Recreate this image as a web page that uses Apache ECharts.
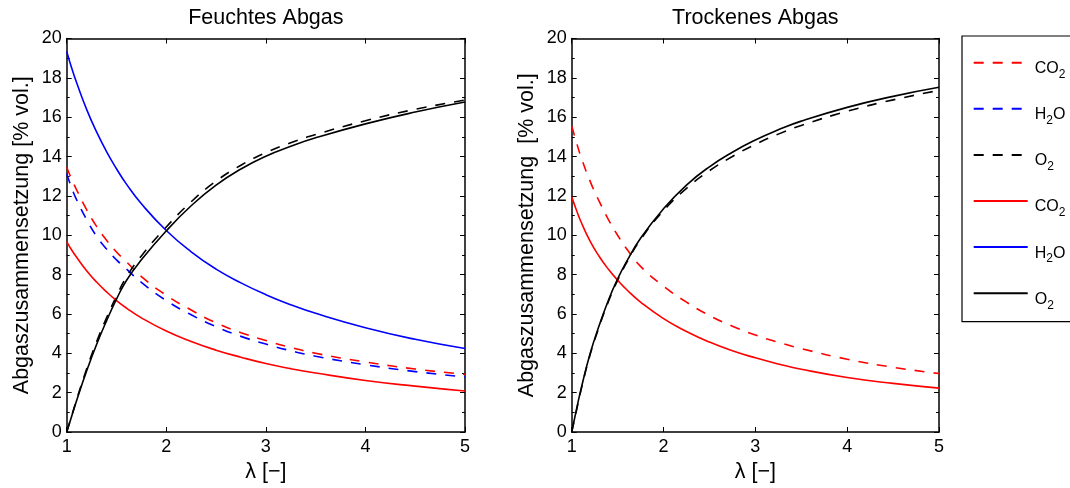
<!DOCTYPE html>
<html>
<head>
<meta charset="utf-8">
<script src="https://cdn.jsdelivr.net/npm/echarts@6/dist/echarts.min.js"></script>
<style>
html,body{margin:0;padding:0;background:#fff;}
#chart{width:1070px;height:488px;}
</style>
</head>
<body>
<div id="chart"></div>
<script>
// ---------- data ----------
const lambda = [1, 1.05, 1.1, 1.2, 1.3, 1.4, 1.5, 1.6, 1.75, 2, 2.25, 2.5, 2.75, 3, 3.25, 3.5, 4, 4.5, 5];

// Feuchtes Abgas (wet)
const wetCO2Dashed = [13.46, 12.85, 12.3, 11.3, 10.45, 9.75, 9.15, 8.65, 7.9, 6.95, 6.2, 5.55, 5.05, 4.65, 4.3, 4.0, 3.56, 3.2, 2.93];
const wetH2ODashed = [13.12, 12.4, 11.8, 10.8, 9.95, 9.3, 8.75, 8.28, 7.6, 6.68, 5.96, 5.35, 4.86, 4.47, 4.13, 3.85, 3.42, 3.07, 2.8];
const wetO2Dashed  = [0, 0.82, 1.65, 3.2, 4.58, 5.8, 6.9, 7.88, 8.95, 10.42, 11.7, 12.75, 13.56, 14.2, 14.7, 15.12, 15.82, 16.4, 16.87];
const wetCO2Solid  = [9.68, 9.25, 8.88, 8.2, 7.62, 7.12, 6.68, 6.3, 5.8, 5.13, 4.6, 4.16, 3.8, 3.48, 3.22, 3.0, 2.62, 2.33, 2.08];
const wetH2OSolid  = [19.34, 18.5, 17.75, 16.4, 15.25, 14.25, 13.38, 12.6, 11.6, 10.24, 9.16, 8.28, 7.58, 6.98, 6.47, 6.03, 5.3, 4.71, 4.24];
const wetO2Solid   = [0, 0.8, 1.6, 3.1, 4.45, 5.65, 6.75, 7.7, 8.75, 10.22, 11.5, 12.55, 13.37, 14.02, 14.52, 14.95, 15.66, 16.26, 16.77];

// Trockenes Abgas (dry)
const dryCO2Dashed = [15.56, 14.75, 14.0, 12.75, 11.72, 10.8, 10.0, 9.3, 8.42, 7.41, 6.6, 5.92, 5.38, 4.93, 4.56, 4.24, 3.7, 3.29, 2.97];
const dryO2Dashed  = [0, 1.05, 2.1, 3.92, 5.36, 6.63, 7.71, 8.62, 9.78, 11.25, 12.38, 13.28, 14.0, 14.62, 15.14, 15.58, 16.3, 16.88, 17.36];
const dryCO2Solid  = [11.95, 11.3, 10.7, 9.7, 8.92, 8.27, 7.72, 7.23, 6.6, 5.76, 5.11, 4.57, 4.13, 3.77, 3.46, 3.19, 2.77, 2.47, 2.23];
const dryO2Solid   = [0, 1.1, 2.15, 3.98, 5.42, 6.7, 7.78, 8.68, 9.85, 11.35, 12.55, 13.48, 14.22, 14.84, 15.36, 15.8, 16.5, 17.06, 17.52];

const xTicks = [1, 2, 3, 4, 5];
const yTicks = [0, 2, 4, 6, 8, 10, 12, 14, 16, 18, 20];

const titles = ['Feuchtes Abgas', 'Trockenes Abgas'];
const yNames = ['Abgaszusammensetzung [% vol.]', 'Abgaszusammensetzung  [% vol.]'];
const xName = 'λ [−]';

const legendNames = ['CO2_d', 'H2O_d', 'O2_d', 'CO2_s', 'H2O_s', 'O2_s'];
const legendLabels = {
  'CO2_d': '{n|CO}{s|2}', 'H2O_d': '{n|H}{s|2}{m|O}', 'O2_d': '{n|O}{s|2}',
  'CO2_s': '{n|CO}{s|2}', 'H2O_s': '{n|H}{s|2}{m|O}', 'O2_s': '{n|O}{s|2}'
};

// ---------- styling ----------
const FONT = '"Liberation Sans", Arial, Helvetica, sans-serif';
const RED = '#ff0000', BLUE = '#0000ff', BLACK = '#000000';
const DASH = [10, 9];
const LW = 1.6;

const grids = [
  {left: 66.7, top: 38.5, width: 398.3, height: 397},
  {left: 571.7, top: 38.5, width: 367.3, height: 397}
];

function pairs(ys) { return lambda.map((x, i) => [x, ys[i]]); }

function xAxisFor(gi, pos) {
  const bottom = pos === 'bottom';
  return {
    type: 'value', gridIndex: gi, position: pos, min: xTicks[0], max: xTicks[xTicks.length - 1], interval: 1,
    name: bottom ? xName : titles[gi], nameLocation: 'middle', nameGap: bottom ? 29 : 9,
    nameTextStyle: {fontFamily: FONT, fontSize: 21.5, color: '#000'},
    axisLine: {show: true, onZero: false, lineStyle: {color: '#000', width: 1.5}},
    axisTick: {show: true, inside: true, length: 5, lineStyle: {color: '#000', width: 1}},
    axisLabel: {show: bottom, margin: 6, fontFamily: FONT, fontSize: 18, color: '#000'},
    splitLine: {show: false}
  };
}
function yAxisFor(gi, pos) {
  const left = pos === 'left';
  return {
    type: 'value', gridIndex: gi, position: pos, min: yTicks[0], max: yTicks[yTicks.length - 1], interval: 2,
    name: left ? yNames[gi] : '', nameLocation: 'middle', nameGap: 34, nameRotate: 90,
    nameTextStyle: {fontFamily: FONT, fontSize: 21.5, color: '#000'},
    axisLine: {show: true, onZero: false, lineStyle: {color: '#000', width: 1.5}},
    axisTick: {show: true, inside: true, length: 5, lineStyle: {color: '#000', width: 1}},
    minorTick: {show: true, splitNumber: 2, length: 3, lineStyle: {color: '#000', width: 1}},
    axisLabel: {show: left, margin: 5, fontFamily: FONT, fontSize: 18, color: '#000'},
    splitLine: {show: false}, minorSplitLine: {show: false}
  };
}

function line(name, ys, color, dashed, gi) {
  return {
    type: 'line', name: name, xAxisIndex: gi * 2, yAxisIndex: gi * 2,
    data: pairs(ys), showSymbol: false, symbol: 'none',
    smooth: 0.5,
    lineStyle: {color: color, width: LW, type: dashed ? DASH : 'solid'},
    itemStyle: {color: color},
    emphasis: {disabled: true}, silent: true, z: dashed ? 2 : 3
  };
}

const option = {
  animation: false,
  backgroundColor: '#fff',
  grid: grids,
  xAxis: [xAxisFor(0, 'bottom'), xAxisFor(0, 'top'), xAxisFor(1, 'bottom'), xAxisFor(1, 'top')],
  yAxis: [yAxisFor(0, 'left'), yAxisFor(0, 'right'), yAxisFor(1, 'left'), yAxisFor(1, 'right')],
  legend: {
    orient: 'vertical', left: 962, top: 36,
    padding: [8.7, 30, 10.5, 10.7],
    itemGap: 10.1, itemWidth: 54, itemHeight: 14,
    borderColor: '#000', borderWidth: 1.2,
    selectedMode: false,
    data: legendNames,
    itemStyle: {opacity: 0},
    formatter: n => legendLabels[n],
    textStyle: {
      fontFamily: FONT, fontSize: 16, color: '#000',
      rich: {
        n: {fontFamily: FONT, fontSize: 16, lineHeight: 16, color: '#000', padding: [16, 0, 4, 2]},
        m: {fontFamily: FONT, fontSize: 16, lineHeight: 16, color: '#000', padding: [16, 0, 4, 0]},
        s: {fontFamily: FONT, fontSize: 12, lineHeight: 12, color: '#000', padding: [24, 0, 0, 0]}
      }
    }
  },
  series: [
    line('CO2_d', wetCO2Dashed, RED, true, 0),
    line('H2O_d', wetH2ODashed, BLUE, true, 0),
    line('O2_d', wetO2Dashed, BLACK, true, 0),
    line('CO2_s', wetCO2Solid, RED, false, 0),
    line('H2O_s', wetH2OSolid, BLUE, false, 0),
    line('O2_s', wetO2Solid, BLACK, false, 0),
    line('CO2_d', dryCO2Dashed, RED, true, 1),
    line('O2_d', dryO2Dashed, BLACK, true, 1),
    line('CO2_s', dryCO2Solid, RED, false, 1),
    line('O2_s', dryO2Solid, BLACK, false, 1)
  ]
};

const chart = echarts.init(document.getElementById('chart'), null, {renderer: 'canvas'});
chart.setOption(option);
</script>
</body>
</html>
